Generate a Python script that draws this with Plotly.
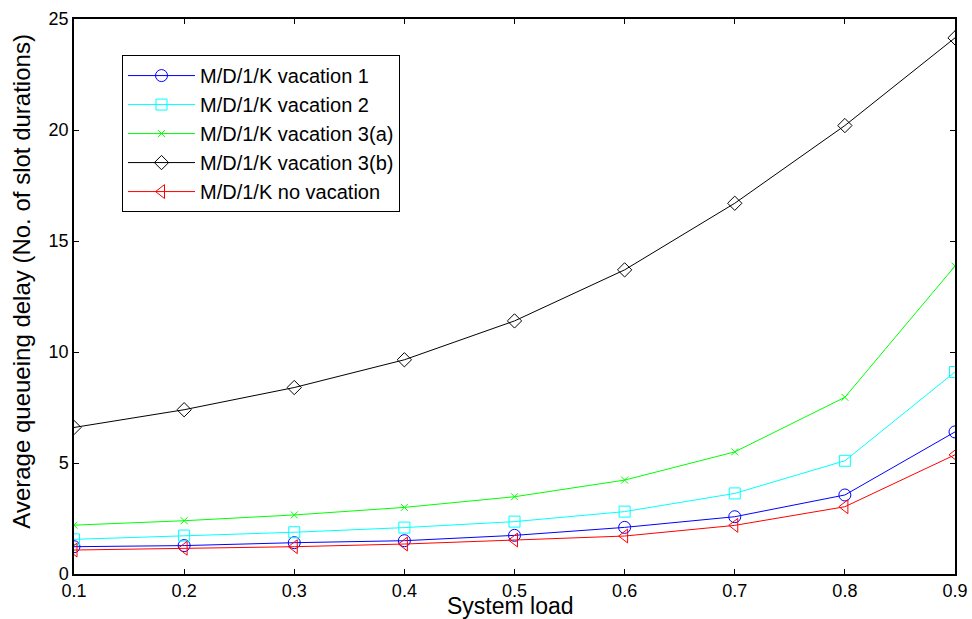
import plotly.graph_objects as go

# System load (x) and average queueing delay per model (y, in slot durations)
load = [0.1, 0.2, 0.3, 0.4, 0.5, 0.6, 0.7, 0.8, 0.9]
vac1 = [1.23, 1.28, 1.41, 1.50, 1.74, 2.10, 2.58, 3.56, 6.40]
vac2 = [1.56, 1.73, 1.88, 2.09, 2.36, 2.81, 3.63, 5.10, 9.10]
vac3a = [2.20, 2.40, 2.66, 3.00, 3.48, 4.23, 5.50, 7.96, 13.87]
vac3b = [6.60, 7.40, 8.40, 9.65, 11.40, 13.70, 16.70, 20.20, 24.15]
novac = [1.08, 1.16, 1.23, 1.35, 1.53, 1.71, 2.19, 3.03, 5.37]

x_ticks = [0.1, 0.2, 0.3, 0.4, 0.5, 0.6, 0.7, 0.8, 0.9]
y_ticks = [0, 5, 10, 15, 20, 25]

series = [
    ("M/D/1/K vacation 1", vac1, "#0000ff", "circle-open", 12),
    ("M/D/1/K vacation 2", vac2, "#00ffff", "square-open", 11),
    ("M/D/1/K vacation 3(a)", vac3a, "#00ff00", "x-thin-open", 7),
    ("M/D/1/K vacation 3(b)", vac3b, "#000000", "diamond-open", 11),
    ("M/D/1/K no vacation", novac, "#ff0000", "triangle-left-open", 12),
]

fig = go.Figure()
for name, ys, color, sym, size in series:
    fig.add_trace(go.Scatter(
        x=load, y=ys, name=name, mode="lines+markers",
        line=dict(color=color, width=1),
        marker=dict(symbol=sym, size=size, color=color,
                    line=dict(color=color, width=1)),
    ))

font_family = "Liberation Sans, Arial, sans-serif"

axis_common = dict(
    showline=True, linecolor="black", linewidth=1.5, mirror="allticks",
    ticks="inside", ticklen=5, tickcolor="black", tickwidth=1,
    showgrid=False, zeroline=False, automargin=False,
    tickfont=dict(family=font_family, size=18, color="black"),
)

fig.update_layout(
    width=972, height=619,
    margin=dict(l=74, r=17, t=19, b=45),
    paper_bgcolor="white", plot_bgcolor="white",
    font=dict(family=font_family, color="black"),
    xaxis=dict(range=[0.1, 0.9], tickvals=x_ticks,
               ticktext=[str(v) for v in x_ticks], **axis_common),
    yaxis=dict(range=[0, 25], tickvals=y_ticks, **axis_common),
    legend=dict(
        x=0.0545, y=0.935, xanchor="left", yanchor="top",
        bgcolor="white", bordercolor="black", borderwidth=1,
        font=dict(family=font_family, size=20, color="black"),
        itemwidth=67, tracegroupgap=0,
    ),
    showlegend=True,
    annotations=[
        dict(text="System load", xref="paper", yref="paper",
             x=0.496, y=-0.058, xanchor="center", yanchor="middle",
             showarrow=False,
             font=dict(family=font_family, size=23, color="black")),
        dict(text="Average queueing delay (No. of slot durations)",
             xref="paper", yref="paper", textangle=-90,
             x=-0.06, y=0.527, xanchor="center", yanchor="middle",
             showarrow=False,
             font=dict(family=font_family, size=24, color="black")),
    ],
)

fig.write_html("out.html")
